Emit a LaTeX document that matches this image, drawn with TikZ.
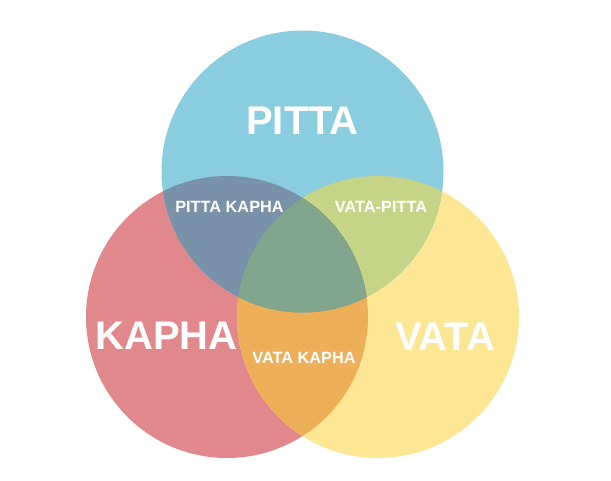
\documentclass[tikz,border=0pt]{standalone}
\usepackage{fontspec}
\setmainfont{Liberation Sans}
\definecolor{pittac}{HTML}{8ACDDE}
\definecolor{kaphac}{HTML}{E0888B}
\definecolor{vatac}{HTML}{FDE694}
\definecolor{pkc}{HTML}{7991A9}
\definecolor{vpc}{HTML}{C5D486}
\definecolor{vkc}{HTML}{EDAF58}
\definecolor{allc}{HTML}{81A68D}
\tikzset{
  biglbl/.style={text=white, font=\fontsize{40}{40}\selectfont\bfseries, inner sep=0pt, anchor=base},
  smalllbl/.style={text=white, font=\fontsize{16.3}{16.3}\selectfont\bfseries, inner sep=0pt, anchor=base},
}
\begin{document}
\begin{tikzpicture}[x=1pt,y=-1pt]
\useasboundingbox (0,0) rectangle (611,480);
\fill[white] (0,0) rectangle (611,480);
\coordinate (P) at (302.5,171.5);
\coordinate (K) at (227,317);
\coordinate (V) at (378,317);
\def\R{141}
\fill[kaphac] (K) circle[radius=\R];
\fill[vatac] (V) circle[radius=\R];
\fill[pittac] (P) circle[radius=\R];
\begin{scope}
  \clip (V) circle[radius=\R];
  \fill[vpc] (P) circle[radius=\R];
\end{scope}
\begin{scope}
  \clip (K) circle[radius=\R];
  \fill[vkc] (V) circle[radius=\R];
  \fill[pkc] (P) circle[radius=\R];
  \clip (V) circle[radius=\R];
  \fill[allc] (P) circle[radius=\R];
\end{scope}
\node[biglbl] (pitta) at (302.5,134) {PITTA};
\node[biglbl] (kapha) at (166.5,349) {KAPHA};
\node[biglbl] (vata) at (445,350) {VATA};
\node[smalllbl] (pk) at (229.5,212.7) {PITTA KAPHA};
\node[smalllbl] (vp) at (381,212.7) {VATA-PITTA};
\node[smalllbl] (vk) at (304,363) {VATA KAPHA};
\end{tikzpicture}
\end{document}
